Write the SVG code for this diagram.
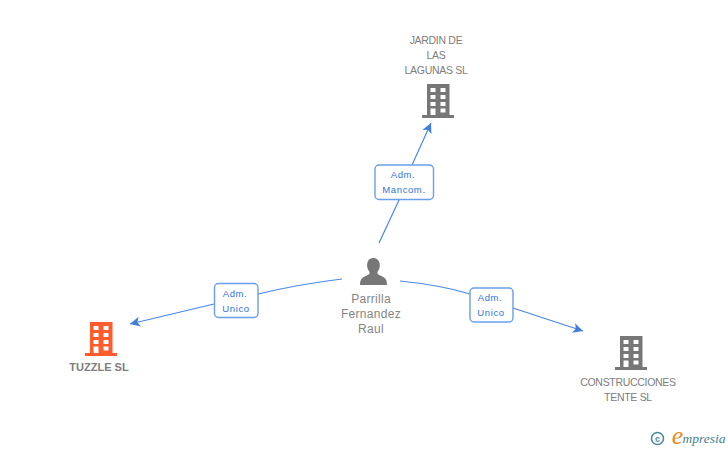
<svg xmlns="http://www.w3.org/2000/svg" width="728" height="450" viewBox="0 0 728 450">
<style>
text{font-family:"Liberation Sans",Arial,sans-serif;text-anchor:middle}
.n{font-size:10.5px;fill:#7d7d7d;letter-spacing:-.3px}
.p{font-size:12px;fill:#858585;letter-spacing:.3px}
.l{font-size:9.5px;fill:#2f74dc;letter-spacing:.6px}
.c{fill:none;stroke:#4a86e8;stroke-width:1.2}
.b{fill:#fff;stroke:#6a9eea;stroke-width:1.4}
</style>
<defs>
<marker id="a" markerUnits="userSpaceOnUse" markerWidth="12" markerHeight="12" refX="10" refY="5" orient="auto"><path d="M0 0L10 5L0 10L2.500 5Z" fill="#3f7fdc"/></marker>
<path id="bld" fill-rule="evenodd" d="M-11 -17H11.500V14H16V17H-16V14H-11ZM-7.500 -13V-9H-2.500V-13ZM2.500 -13V-9H7.500V-13ZM-7.500 -6V-2H-2.500V-6ZM2.500 -6V-2H7.500V-6ZM-7.500 1V5H-2.500V1ZM2.500 1V5H7.500V1ZM-7.500 7.500V14H-2.500V7.500ZM2.500 7.500V11.500H7.500V7.500Z"/>
</defs>
<g id="connectors">
<path class="c" d="M379 243Q392 215 400 198"/>
<path class="c" d="M412 165L431 123" marker-end="url(#a)"/>
<path class="c" d="M342 279Q300 284 258 294"/>
<path class="c" d="M214 304L130 324" marker-end="url(#a)"/>
<path class="c" d="M400 281Q440 285 470 294"/>
<path class="c" d="M513 308L583 331" marker-end="url(#a)"/>
</g>
<g id="node-jardin">
<use href="#bld" x="438" y="101" fill="#777"/>
<text class="n" x="436" y="44">JARDIN DE</text>
<text class="n" x="436" y="59">LAS</text>
<text class="n" x="436" y="74">LAGUNAS SL</text>
</g>
<g id="node-tuzzle">
<use href="#bld" x="101" y="339" fill="#ff5c2e"/>
<text x="99" y="371" style="font-weight:bold;font-size:11px;fill:#7d7d7d">TUZZLE SL</text>
</g>
<g id="node-construcciones">
<use href="#bld" x="631" y="353" fill="#777"/>
<text class="n" x="628" y="386">CONSTRUCCIONES</text>
<text class="n" x="628" y="401">TENTE SL</text>
</g>
<g id="node-parrilla">
<path fill="#777" d="M360 285C360 278 363 277 368 275C370 274 370 272 369 271C366 268 366 258 373 258C381 258 381 268 378 271C377 272 377 274 379 275C384 277 387 278 387 285Z"/>
<text class="p" x="371" y="303">Parrilla</text>
<text class="p" x="371" y="318">Fernandez</text>
<text class="p" x="371" y="333">Raul</text>
</g>
<g id="label-mancom">
<rect class="b" x="375" y="165" width="58.500" height="34.500" rx="4"/>
<text class="l" x="403" y="178">Adm.</text>
<text class="l" x="404" y="193">Mancom.</text>
</g>
<g id="label-unico1">
<rect class="b" x="214.500" y="283.500" width="43.500" height="34" rx="4"/>
<text class="l" x="235" y="297">Adm.</text>
<text class="l" x="236" y="312">Unico</text>
</g>
<g id="label-unico2">
<rect class="b" x="470" y="288" width="43" height="34" rx="4"/>
<text class="l" x="490" y="301">Adm.</text>
<text class="l" x="491" y="316">Unico</text>
</g>
<g id="logo">
<circle cx="657.500" cy="438.500" r="6" fill="none" stroke="#4a8a9c" stroke-width="1.600"/>
<text x="657.500" y="441.500" style="font-size:9px;font-weight:bold;fill:#4a8a9c">c</text>
<text x="677.500" y="444" style="font-size:26px;fill:#f08a1d;font-style:italic;font-family:'Liberation Serif',serif">e</text>
<text x="704" y="443" style="font-size:13.500px;fill:#3f7f90;font-style:italic;font-family:'Liberation Serif',serif">mpresia</text>
</g>
</svg>
